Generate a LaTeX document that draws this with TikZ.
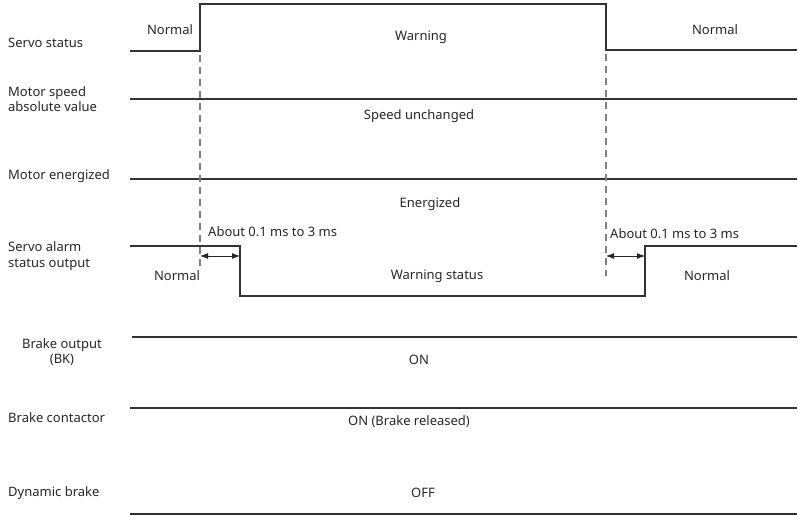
\documentclass[tikz,border=0pt]{standalone}
\usepackage{fontspec}
\setmainfont{Noto Sans}
\usepackage{tikz}
\usetikzlibrary{arrows.meta}

\begin{document}
\begin{tikzpicture}[x=1pt,y=-1pt,
    sig/.style={line width=1.6pt,color=black!80},
    guide/.style={line width=1.1pt,color=black!50,dash pattern=on 7pt off 5pt},
    lbl/.style={font=\fontsize{13}{15.5}\selectfont,color=black!85,inner sep=0pt},
    txt/.style={lbl,align=left,anchor=west}]
            \useasboundingbox (0,0) rectangle (798,515);
            % signal names
            \node[txt] (ss) at (8,43) {Servo status};
            \node[txt] (ms) at (8,99) {Motor speed\\absolute value};
            \node[txt] (me) at (8,176) {Motor energized};
            \node[txt] (sa) at (8,256) {Servo alarm\\status output};
            \node[lbl,align=center] (bo) at (62,352) {Brake output\\(BK)};
            \node[txt] (bc) at (8,418) {Brake contactor};
            \node[txt] (db) at (8,493) {Dynamic brake};
            % waveforms
            \draw[sig] (130,51) -- (200,51) -- (200,4) -- (606,4) -- (606,50) -- (797,50);
            \draw[sig] (130,99) -- (797,99);
            \draw[sig] (130,179) -- (797,179);
            \draw[sig] (130,246) -- (240,246) -- (240,296) -- (645,296) -- (645,246) -- (797,246);
            \draw[sig] (132,337) -- (797,337);
            \draw[sig] (130,408) -- (797,408);
            \draw[sig] (130,514) -- (797,514);
            \draw[guide] (200,55) -- (200,270);
            \draw[guide] (606,54) -- (606,276);
            % delays
            \coordinate (t1) at (200,256);
            \coordinate (t2) at (240,256);
            \coordinate (t3) at (606,256);
            \coordinate (t4) at (645,256);
            \draw[{Latex[length=8pt,width=6pt]}-{Latex[length=8pt,width=6pt]},line width=0.9pt,black!85] (t1) -- (t2);
            \draw[{Latex[length=8pt,width=6pt]}-{Latex[length=8pt,width=6pt]},line width=0.9pt,black!85] (t3) -- (t4);
            \node[txt] (d1) at (208,232) {About 0.1 ms to 3 ms};
            \node[txt] (d2) at (610,234) {About 0.1 ms to 3 ms};
            % states
            \node[lbl] (n1) at (170,30) {Normal};
            \node[lbl] (w1) at (421,37) {Warning};
            \node[lbl] (n2) at (715,30) {Normal};
            \node[lbl] (su) at (419,116) {Speed unchanged};
            \node[lbl] (en) at (430,204) {Energized};
            \node[lbl] (n3) at (177,276) {Normal};
            \node[lbl] (ws) at (437,276) {Warning status};
            \node[lbl] (n4) at (707,276) {Normal};
            \node[lbl] (on) at (419,360) {ON};
            \node[lbl] (br) at (409,422) {ON (Brake released)};
            \node[lbl] (of) at (423,493) {OFF};
        \end{tikzpicture}
\end{document}
